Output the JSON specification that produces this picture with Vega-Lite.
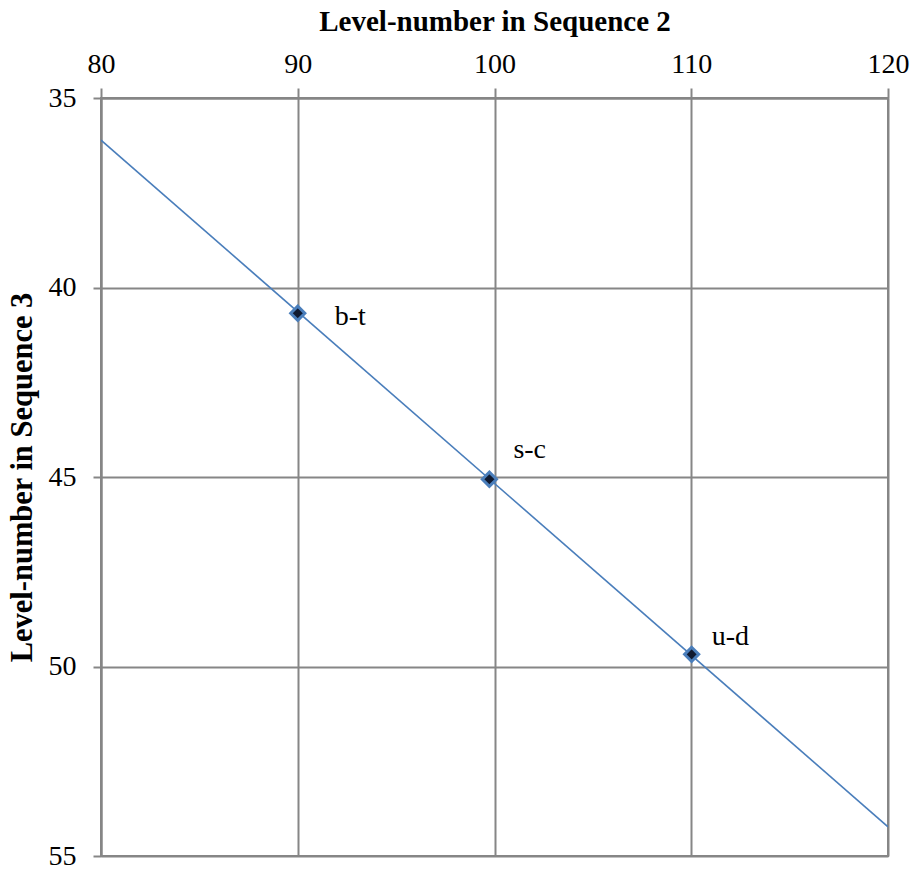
{
  "$schema": "https://vega.github.io/schema/vega-lite/v6.json",
  "autosize": {"type": "none"},
  "padding": {"left": 101, "top": 98, "right": 28, "bottom": 19},
  "width": 787,
  "height": 758,
  "background": "white",
  "config": {
    "view": {"stroke": "#868686", "strokeWidth": 2},
    "font": "Liberation Serif",
    "axis": {
      "labelFont": "Liberation Serif",
      "labelFontSize": 28,
      "labelColor": "black",
      "titleFont": "Liberation Serif",
      "titleFontWeight": "bold",
      "titleColor": "black",
      "domainColor": "#868686",
      "domainWidth": 2,
      "tickColor": "#868686",
      "tickWidth": 2,
      "gridColor": "#868686",
      "gridWidth": 2,
      "gridOpacity": 1
    }
  },
  "datasets": {
    "points": [
      {"seq2": 90.0, "seq3": 40.68, "label": "b-t"},
      {"seq2": 99.74, "seq3": 45.06, "label": "s-c"},
      {"seq2": 110.02, "seq3": 49.68, "label": "u-d"}
    ],
    "trend": [
      {"seq2": 80, "seq3": 36.11},
      {"seq2": 120, "seq3": 54.23}
    ]
  },
  "encoding": {
    "x": {
      "field": "seq2",
      "type": "quantitative",
      "scale": {"domain": [80, 120], "nice": false, "zero": false},
      "axis": {
        "orient": "top",
        "title": "Level-number in Sequence 2",
        "titleFontSize": 29,
        "values": [80, 90, 100, 110, 120],
        "tickSize": 10,
        "labelPadding": 10,
        "titlePadding": 14,
        "labelFlush": false,
        "labelOverlap": false
      }
    },
    "y": {
      "field": "seq3",
      "type": "quantitative",
      "scale": {"domain": [35, 55], "reverse": true, "nice": false, "zero": false},
      "axis": {
        "title": "Level-number in Sequence 3",
        "titleFontSize": 30.5,
        "values": [35, 40, 45, 50, 55],
        "tickSize": 8,
        "labelPadding": 17,
        "titlePadding": 11,
        "labelFlush": false,
        "labelOverlap": false
      }
    }
  },
  "layer": [
    {
      "data": {"name": "trend"},
      "mark": {"type": "line", "color": "#4a7ebb", "strokeWidth": 1.6, "clip": true}
    },
    {
      "data": {"name": "points"},
      "mark": {"type": "point", "shape": "diamond", "size": 200, "filled": true, "fill": "#101a30", "stroke": "#4a7ebb", "strokeWidth": 3, "opacity": 1}
    },
    {
      "data": {"name": "points"},
      "transform": [{"filter": "datum.label === 'b-t'"}],
      "mark": {"type": "text", "align": "left", "baseline": "alphabetic", "dx": 37, "dy": 12, "fontSize": 28, "font": "Liberation Serif", "color": "black"},
      "encoding": {"text": {"field": "label"}}
    },
    {
      "data": {"name": "points"},
      "transform": [{"filter": "datum.label === 's-c'"}],
      "mark": {"type": "text", "align": "left", "baseline": "alphabetic", "dx": 24, "dy": -21, "fontSize": 28, "font": "Liberation Serif", "color": "black"},
      "encoding": {"text": {"field": "label"}}
    },
    {
      "data": {"name": "points"},
      "transform": [{"filter": "datum.label === 'u-d'"}],
      "mark": {"type": "text", "align": "left", "baseline": "alphabetic", "dx": 20, "dy": -9, "fontSize": 28, "font": "Liberation Serif", "color": "black"},
      "encoding": {"text": {"field": "label"}}
    }
  ]
}
